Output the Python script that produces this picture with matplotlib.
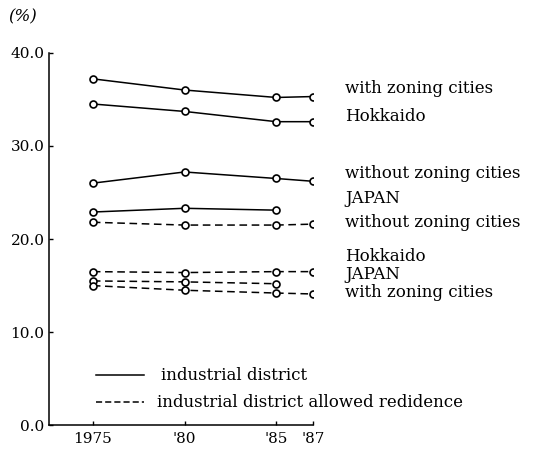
import matplotlib
matplotlib.use("Agg")
import matplotlib.pyplot as plt
import numpy as np

plt.rcParams['font.family'] = ['DejaVu Serif']

# data (%)
years = [1975, 1980, 1985, 1987]
tick_labels = ["1975", "'80", "'85", "'87"]

# industrial district (solid)
ind_with_zoning = [37.2, 36.0, 35.2, 35.3]
ind_hokkaido = [34.5, 33.7, 32.6, 32.6]
ind_without_zoning = [26.0, 27.2, 26.5, 26.2]
ind_japan = [22.9, 23.3, 23.1, np.nan]

# industrial district allowed residence (dashed)
res_without_zoning = [21.8, 21.5, 21.5, 21.6]
res_hokkaido = [16.5, 16.4, 16.5, 16.5]
res_japan = [15.5, 15.4, 15.2, np.nan]
res_with_zoning = [15.0, 14.5, 14.2, 14.1]

solid_series = [ind_with_zoning, ind_hokkaido, ind_without_zoning, ind_japan]
dashed_series = [res_without_zoning, res_hokkaido, res_japan, res_with_zoning]

# right-hand labels and their heights
end_labels = ["with zoning cities", "Hokkaido", "without zoning cities", "JAPAN",
              "without zoning cities", "Hokkaido", "JAPAN", "with zoning cities"]
label_y = [36.2, 33.2, 27.0, 24.3, 21.8, 18.1, 16.2, 14.3]

fig = plt.figure(figsize=(5.36, 4.51), dpi=100)
ax = fig.add_axes([0.091, 0.057, 0.493, 0.826])

for s in solid_series:
    ax.plot(years, s, color='black', lw=1.1, marker='o', ms=5,
            mfc='white', mec='black', mew=1.2)
for s in dashed_series:
    ax.plot(years, s, color='black', lw=1.1, ls=(0, (5, 3)), marker='o', ms=5,
            mfc='white', mec='black', mew=1.2)

for txt, y in zip(end_labels, label_y):
    ax.text(1988.75, y, txt, fontsize=12, va='center', ha='left', clip_on=False)

# legend drawn by hand
ax.plot([1975.2, 1977.8], [5.4, 5.4], color='black', lw=1.1)
ax.text(1978.7, 5.4, "industrial district", fontsize=12, va='center')
ax.plot([1975.2, 1977.8], [2.5, 2.5], color='black', lw=1.1, ls=(0, (4, 2)))
ax.text(1978.5, 2.5, "industrial district allowed redidence", fontsize=12, va='center')

ax.set_xlim(1972.6, 1987)
ax.set_ylim(0, 40)
ax.set_xticks(years)
ax.set_xticklabels(tick_labels)
ax.set_yticks([0, 10, 20, 30, 40])
ax.set_yticklabels(["0.0", "10.0", "20.0", "30.0", "40.0"])
ax.tick_params(direction='in', length=3, width=1, labelsize=11, pad=3)
ax.tick_params(axis='x', pad=5)
for side in ['top', 'right']:
    ax.spines[side].set_visible(False)
for side in ['left', 'bottom']:
    ax.spines[side].set_linewidth(1.1)

fig.text(0.015, 0.962, "(%)", fontsize=12, style='italic', va='center')

fig.savefig("out.png", dpi=100)
